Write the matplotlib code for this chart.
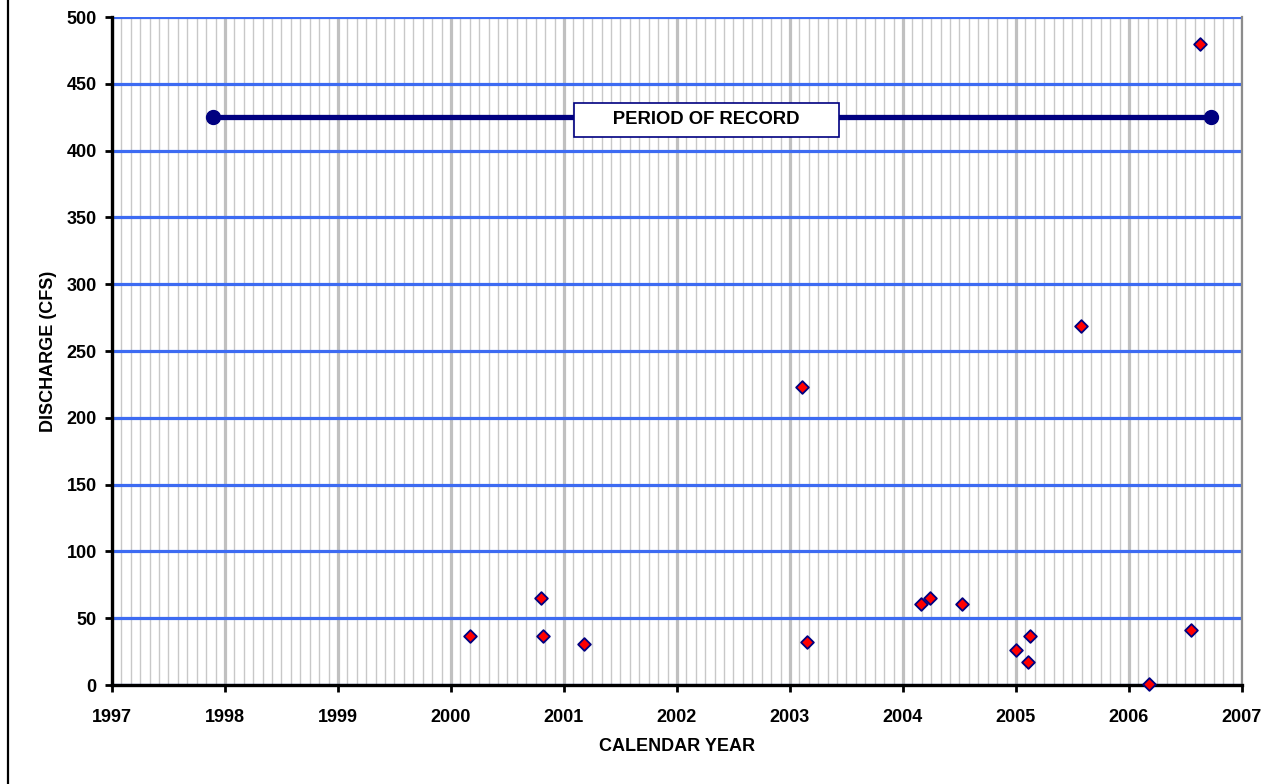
import numpy as np
import matplotlib.pyplot as plt
from matplotlib.ticker import MultipleLocator
from matplotlib.lines import Line2D

plt.rc('font', family='Liberation Sans', weight='bold')

# measured discharge (decimal year, cfs)
years = [2000.17, 2000.80, 2000.81, 2001.18, 2003.11, 2003.15,
         2004.16, 2004.24, 2004.52, 2005.00, 2005.11, 2005.12,
         2005.575, 2006.18, 2006.55, 2006.63]
discharge = [37, 65, 37, 31, 223, 32,
             61, 65, 61, 26, 17, 37,
             269, 1, 41, 480]

# period of record bar
record_years = [1997.89, 2006.73]
record_level = [425, 425]
record_label = "PERIOD OF RECORD"

fig = plt.figure(figsize=(12.77, 7.84), dpi=100)
ax = fig.add_axes([112/1277, 1-685/784, 1130/1277, 668/784])

ax.set_xlim(1997, 2007)
ax.set_ylim(0, 500)
ax.xaxis.set_major_locator(MultipleLocator(1))
ax.xaxis.set_minor_locator(MultipleLocator(1/12))
ax.yaxis.set_major_locator(MultipleLocator(50))

# grid
ax.grid(which='minor', axis='x', color='#c8c8c8', linewidth=1.0)
ax.grid(which='major', axis='x', color='#c0c0c0', linewidth=2.3)
ax.grid(which='major', axis='y', color='#3d6bf2', linewidth=2.3)
ax.set_axisbelow(True)

ax.plot(record_years, record_level, color='#000080', linewidth=3.8,
        marker='o', markersize=10, zorder=3)
ax.text(2002.26, 423, "      " + record_label + "      ", ha='center', va='center',
        fontsize=13.3, fontweight='bold', zorder=4,
        bbox=dict(boxstyle='square,pad=0.45', facecolor='white', edgecolor='#000080', linewidth=1.2))

ax.scatter(years, discharge, marker='D', s=42, facecolor='#ff0000',
           edgecolor='#000080', linewidth=1.3, zorder=5, clip_on=False)

# spines
for s in ['left', 'bottom']:
    ax.spines[s].set_linewidth(2.4)
    ax.spines[s].set_color('black')
ax.spines['top'].set_visible(False)
ax.spines['right'].set_color('#8c8c8c')
ax.spines['right'].set_linewidth(1.6)

ax.tick_params(which='major', direction='out', length=5, width=2, labelsize=13)
ax.tick_params(which='minor', length=0)
ax.tick_params(axis='x', pad=12)
ax.tick_params(axis='y', pad=6)
for lbl in ax.get_xticklabels() + ax.get_yticklabels():
    lbl.set_fontweight('bold')

ax.set_xlabel("CALENDAR YEAR", fontsize=13, fontweight='bold', labelpad=9)
ax.set_ylabel("DISCHARGE (CFS)", fontsize=13, fontweight='bold', labelpad=7)

# chart frame edge on the left
fig.add_artist(Line2D([8/1277, 8/1277], [0, 1], color='black', linewidth=1.6))

fig.savefig("out.png", dpi=100)
